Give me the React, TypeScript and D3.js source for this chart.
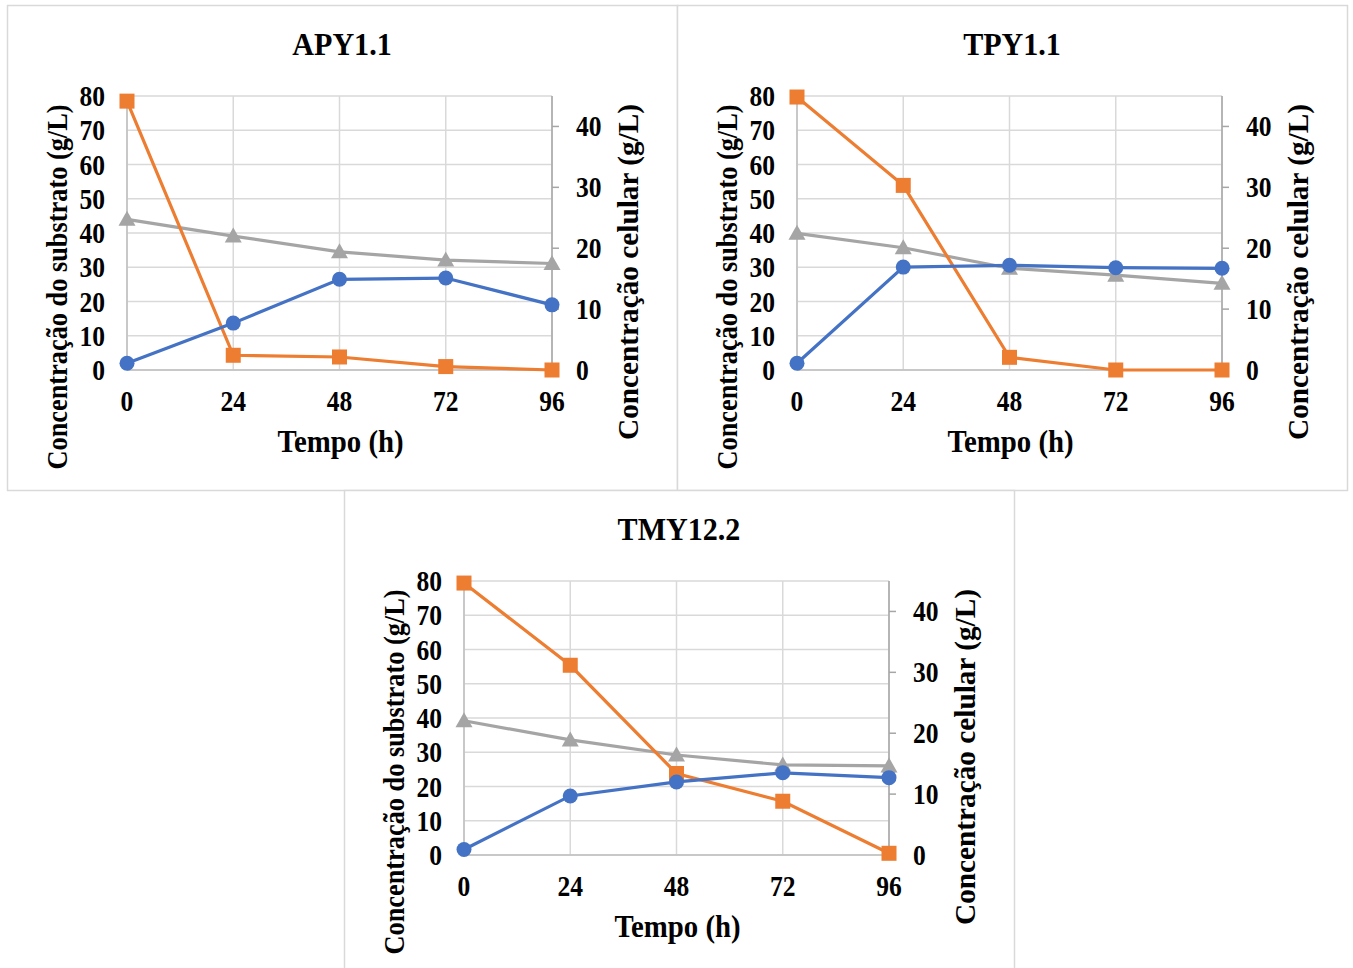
import React from "react";
import * as d3 from "d3";

const hours = [0, 24, 48, 72, 96];
const leftTicks = [0, 10, 20, 30, 40, 50, 60, 70, 80];
const rightTicks = [0, 10, 20, 30, 40];

const panelNames = ["APY1.1", "TPY1.1", "TMY12.2"];
// orange squares, left axis
const substrateAPY = [78.5, 4.3, 3.8, 1.0, 0];
const substrateTPY = [79.7, 53.9, 3.7, 0, 0];
const substrateTMY = [79.4, 55.4, 23.8, 15.7, 0.5];
// gray triangles, left axis
const grayAPY = [44.0, 39.1, 34.5, 32.1, 31.1];
const grayTPY = [39.9, 35.7, 29.7, 27.7, 25.3];
const grayTMY = [39.2, 33.6, 29.2, 26.3, 26.0];
// blue circles, right axis
const cellAPY = [1.1, 7.7, 14.9, 15.1, 10.7];
const cellTPY = [1.1, 16.9, 17.2, 16.8, 16.7];
const cellTMY = [0.9, 9.7, 12.0, 13.5, 12.7];

const panels = [
  { name: panelNames[0], ox: 7, oy: 5, sub: substrateAPY, gray: grayAPY, cell: cellAPY },
  { name: panelNames[1], ox: 677, oy: 5, sub: substrateTPY, gray: grayTPY, cell: cellTPY },
  { name: panelNames[2], ox: 344, oy: 490, sub: substrateTMY, gray: grayTMY, cell: cellTMY },
];

const ORANGE = "#ED7D31";
const BLUE = "#4472C4";
const GRAY = "#A5A5A5";
const FONT = "'Liberation Serif', 'Times New Roman', serif";

function T({ x, y, anchor, size, sx, children }: any) {
  return (
    <text
      transform={`translate(${x},${y}) scale(${sx},1)`}
      textAnchor={anchor}
      fontFamily={FONT}
      fontWeight="bold"
      fontSize={size}
      fill="#000"
    >
      {children}
    </text>
  );
}

function Panel({ p }: { p: any }) {
  const left = p.ox + 120;
  const right = p.ox + 545;
  const top = p.oy + 91;
  const bottom = p.oy + 365;
  const x = d3.scaleLinear().domain([0, 96]).range([left, right]);
  const yL = d3.scaleLinear().domain([0, 80]).range([bottom, top]);
  const yR = d3.scaleLinear().domain([0, 45]).range([bottom, top]);
  const cx = (left + right) / 2;

  const lineL = d3.line<number>().x((_, i) => x(hours[i])).y((v) => yL(v));
  const lineR = d3.line<number>().x((_, i) => x(hours[i])).y((v) => yR(v));

  return (
    <g>
      <rect x={p.ox + 0.5} y={p.oy + 0.5} width={670} height={485} fill="white" stroke="#d9d9d9" strokeWidth={1.5} />
      <T x={cx + 2.5} y={p.oy + 50} anchor="middle" size={32} sx={0.94}>{p.name}</T>
      {leftTicks.map((t) => (
        <line key={"h" + t} x1={left} x2={right} y1={yL(t)} y2={yL(t)} stroke="#d9d9d9" strokeWidth={1.5} />
      ))}
      {hours.map((h) => (
        <line key={"v" + h} x1={x(h)} x2={x(h)} y1={top} y2={bottom} stroke="#d9d9d9" strokeWidth={1.5} />
      ))}
      <line x1={left} x2={left} y1={top} y2={bottom} stroke="#bfbfbf" strokeWidth={1.5} />
      <line x1={left} x2={right} y1={bottom} y2={bottom} stroke="#bfbfbf" strokeWidth={1.5} />
      <line x1={right} x2={right} y1={top} y2={bottom} stroke="#a6a6a6" strokeWidth={1.5} />
      {rightTicks.map((t) => (
        <line key={"rt" + t} x1={right} x2={right + 7} y1={yR(t)} y2={yR(t)} stroke="#a6a6a6" strokeWidth={1.5} />
      ))}
      {leftTicks.map((t) => (
        <T key={"lt" + t} x={left - 22} y={yL(t) + 10} anchor="end" size={29} sx={0.88}>{t}</T>
      ))}
      {rightTicks.map((t) => (
        <T key={"rl" + t} x={right + 24} y={yR(t) + 10} anchor="start" size={29} sx={0.88}>{t}</T>
      ))}
      {hours.map((h) => (
        <T key={"xt" + h} x={x(h)} y={bottom + 41} anchor="middle" size={29} sx={0.88}>{h}</T>
      ))}
      <T x={cx + 1} y={bottom + 82} anchor="middle" size={31} sx={0.93}>Tempo (h)</T>
      <text transform={`translate(${left - 60},${bottom - 83}) rotate(-90)`} textAnchor="middle" fontFamily={FONT} fontWeight="bold" fontSize={30} textLength={365} lengthAdjust="spacingAndGlyphs">Concentração do substrato (g/L)</text>
      <text transform={`translate(${right + 86},${bottom - 98}) rotate(-90)`} textAnchor="middle" fontFamily={FONT} fontWeight="bold" fontSize={30} textLength={336} lengthAdjust="spacingAndGlyphs">Concentração celular (g/L)</text>
      <path d={lineL(p.gray) || ""} fill="none" stroke={GRAY} strokeWidth={3.2} />
      {p.gray.map((v: number, i: number) => {
        const px = x(hours[i]);
        const py = yL(v);
        return <path key={"g" + i} d={`M${px},${py - 8.5}L${px + 8.5},${py + 6.5}L${px - 8.5},${py + 6.5}Z`} fill={GRAY} />;
      })}
      <path d={lineL(p.sub) || ""} fill="none" stroke={ORANGE} strokeWidth={3.2} />
      {p.sub.map((v: number, i: number) => (
        <rect key={"o" + i} x={x(hours[i]) - 7.5} y={yL(v) - 7.5} width={15} height={15} fill={ORANGE} />
      ))}
      <path d={lineR(p.cell) || ""} fill="none" stroke={BLUE} strokeWidth={3.2} />
      {p.cell.map((v: number, i: number) => (
        <circle key={"b" + i} cx={x(hours[i])} cy={yR(v)} r={7.5} fill={BLUE} />
      ))}
    </g>
  );
}

export default function App() {
  return (
    <svg width={1353} height={968} style={{ position: "absolute", left: 0, top: 0, background: "white" }}>
      <rect x={0} y={0} width={1353} height={968} fill="white" />
      {panels.map((p) => (
        <Panel key={p.name} p={p} />
      ))}
    </svg>
  );
}
